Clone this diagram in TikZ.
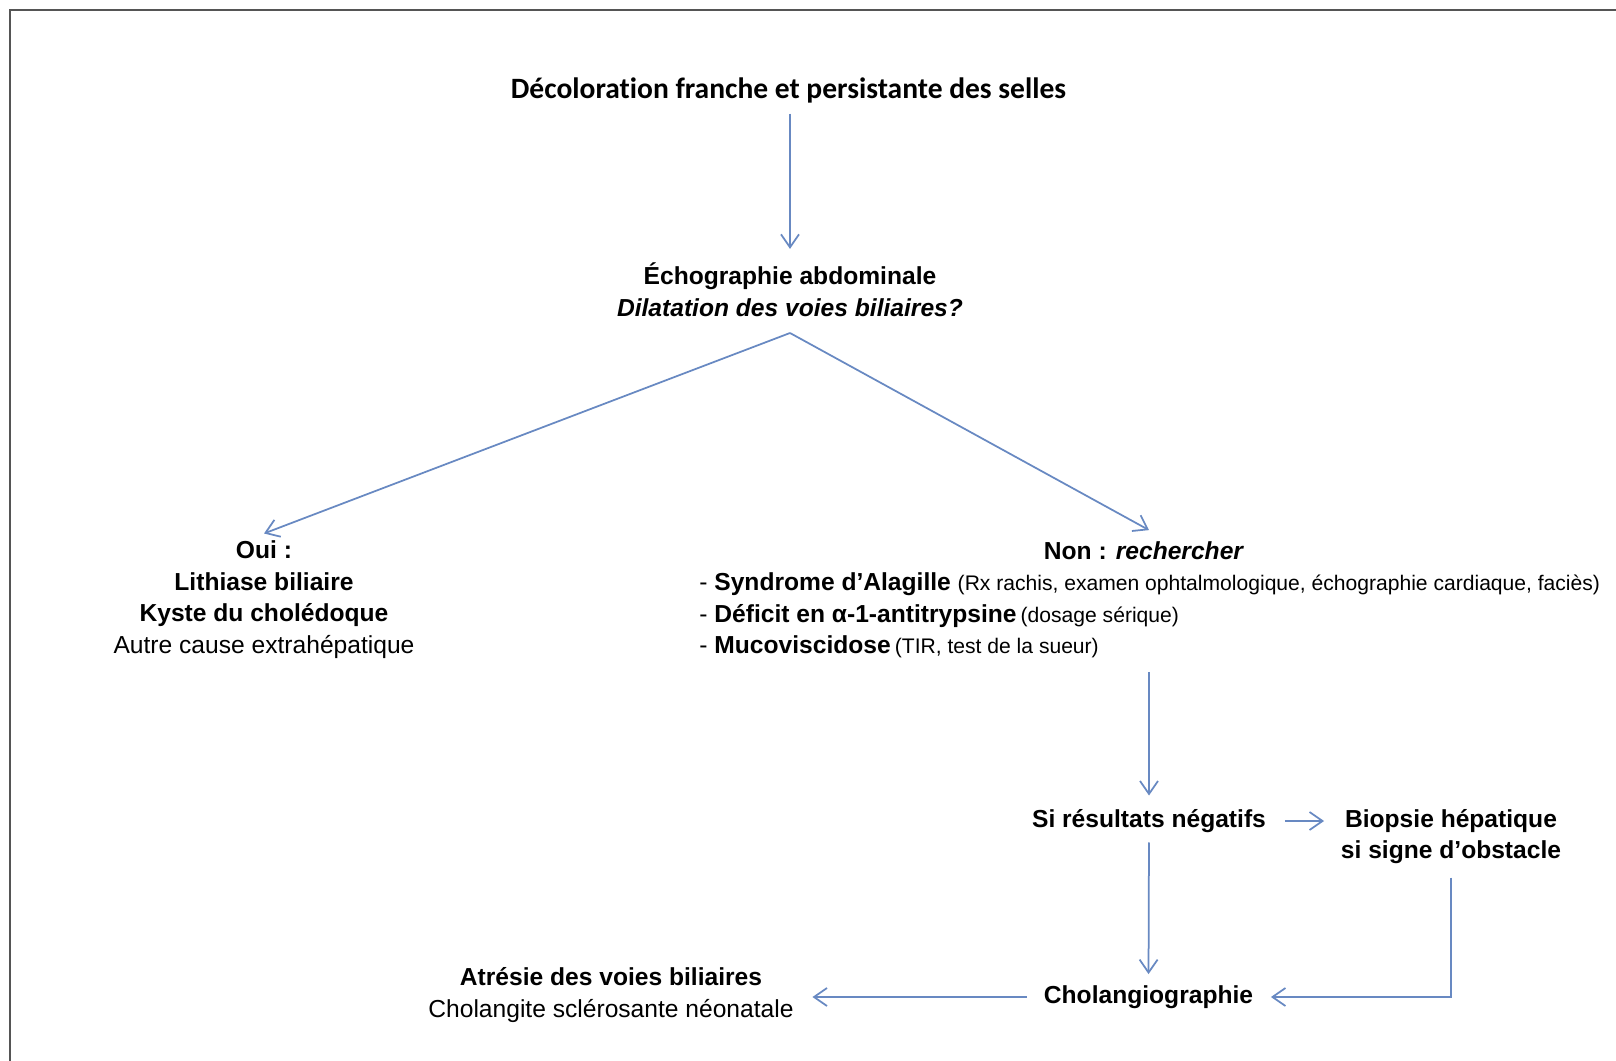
\documentclass[tikz,border=0pt]{standalone}
\usepackage{fontspec}
\setmainfont{Liberation Sans}
\newfontfamily\calfont[Ligatures=NoCommon]{Carlito}
\usetikzlibrary{arrows.meta}
\definecolor{arrowblue}{RGB}{104,137,194}
\definecolor{framegray}{RGB}{85,85,85}
\newcommand{\paren}[1]{{\fontsize{12}{15}\selectfont #1}}

\begin{document}
\begin{tikzpicture}[
    >={Straight Barb[length=0.26cm,width=0.36cm]},
    txt/.style={inner sep=2pt, align=center, font=\fontsize{14}{17.9}\selectfont},
    arr/.style={->, draw=arrowblue, line width=0.035cm}
]
    \useasboundingbox (0,0) rectangle (32.32,-21.22);

    % Outer frame (only left and top edges are visible)
    \draw[framegray, line width=0.05cm] (0.2,-21.22) -- (0.2,-0.2) -- (32.32,-0.2);

    % Start
    \node[txt, font=\calfont\bfseries\fontsize{16.8}{20}\selectfont] (title) at (15.77,-1.8)
        {Décoloration franche et persistante des selles};

    % Ultrasound
    \node[txt] (echo) at (15.8,-5.79)
        {\textbf{Échographie abdominale}\\\textbf{\textit{Dilatation des voies biliaires?}}};
    \draw[arr, shorten <=0.14cm, shorten >=0.2cm] (title.south -| echo.north) -- (echo.north);

    \coordinate (fork) at (15.8,-6.66);

    % Yes branch
    \node[txt] (oui) at (5.28,-11.99)
        {\textbf{Oui :}\\\textbf{Lithiase biliaire}\\\textbf{Kyste du cholédoque}\\Autre cause extrahépatique};

    % No branch
    \node[txt] (non) at (22.88,-11.02) {\textbf{Non : \textit{rechercher}}};
    \node[txt, anchor=west, align=left] (list) at (13.91,-12.31)
        {- \textbf{Syndrome d’Alagille} \paren{(Rx rachis, examen ophtalmologique, échographie cardiaque, faciès)}\\
         - \textbf{Déficit en α-1-antitrypsine}\,\paren{(dosage sérique)}\\
         - \textbf{Mucoviscidose}\,\paren{(TIR, test de la sueur)}};

    \draw[arr] (fork) -- ([yshift=0.07cm]oui.north);
    \draw[arr] (fork) -- ([xshift=0.1cm, yshift=0.16cm]non.north);

    % Further work-up
    \node[txt] (neg) at (22.98,-16.42) {\textbf{Si résultats négatifs}};
    \node[txt] (biop) at (29.02,-16.73) {\textbf{Biopsie hépatique}\\\textbf{si signe d’obstacle}};
    \node[txt] (chol) at (22.97,-19.94) {\textbf{Cholangiographie}};
    \node[txt] (atr) at (12.22,-19.9)
        {\textbf{Atrésie des voies biliaires}\\Cholangite sclérosante néonatale};

    \draw[arr, shorten <=0.2cm, shorten >=0.2cm] (list.south -| neg.north) -- (neg.north);
    \draw[arr, shorten <=0.3cm, shorten >=0.26cm] (neg.east) -- (neg.east -| biop.west);
    \draw[arr, shorten <=0.12cm, shorten >=0.15cm] (neg.south) -- (chol.north);
    \draw[arr, shorten <=0.2cm, shorten >=0.28cm] (biop.south) |- (chol.east);
    \draw[arr, shorten <=0.26cm, shorten >=0.3cm] (chol.west) -- (atr.east |- chol.west);

\end{tikzpicture}
\end{document}
